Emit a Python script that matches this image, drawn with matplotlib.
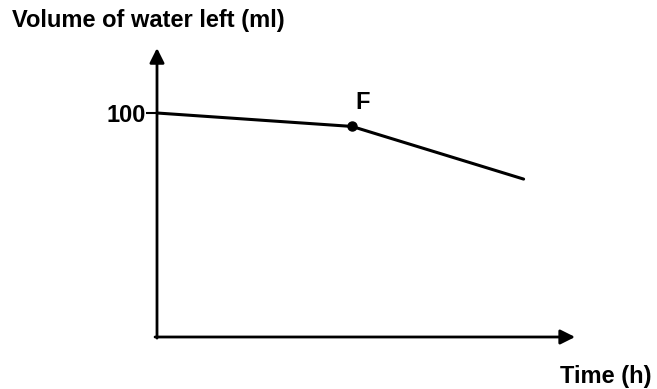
import matplotlib
matplotlib.use("Agg")
import matplotlib.pyplot as plt

# Data (arbitrary time units, volume in ml)
time_h = [0, 5, 9.4]
volume_ml = [100, 94, 70.5]
point_label = "F"
point_index = 1
ytick_values = [100]
ytick_labels = ["100"]
xlabel = "Time (h)"
ylabel = "Volume of water left (ml)"

W, H = 657, 389
fig = plt.figure(figsize=(W / 100, H / 100), dpi=100)
fig.patch.set_facecolor("white")

# axes region mapped so origin sits at the arrows' corner
ax = fig.add_axes([157 / W, (H - 337) / H, 429 / W, 291.2 / H])
ax.set_xlim(0, 11)
ax.set_ylim(0, 130)
for s in ax.spines.values():
    s.set_visible(False)
ax.patch.set_alpha(0)

font = dict(family="Liberation Sans", weight="bold")
FS = 17

# axis arrows
ax.annotate("", xy=(10.72, 0), xytext=(-0.05, 0), xycoords="data",
            arrowprops=dict(arrowstyle="-|>", lw=2, color="black",
                            mutation_scale=22, shrinkA=0, shrinkB=0),
            annotation_clip=False)
ax.annotate("", xy=(0, 129), xytext=(0, -0.5), xycoords="data",
            arrowprops=dict(arrowstyle="-|>", lw=2, color="black",
                            mutation_scale=22, shrinkA=0, shrinkB=0),
            annotation_clip=False)

# ticks
ax.set_xticks([])
ax.set_yticks(ytick_values)
ax.set_yticklabels(ytick_labels, fontsize=FS, **font)
ax.tick_params(axis="y", length=8, width=1.5, pad=0, color="black")

# data line
ax.plot(time_h, volume_ml, color="black", lw=2.2, clip_on=False,
        solid_capstyle="round")
ax.plot([time_h[point_index]], [volume_ml[point_index]], "o", color="black",
        ms=6.5, clip_on=False)
ax.annotate(point_label, xy=(time_h[point_index], volume_ml[point_index]),
            xytext=(7.5, 9), textcoords="offset points", ha="center",
            va="bottom", fontsize=FS, **font)

# labels
fig.text(12 / W, 1 - 27 / H, ylabel, ha="left", va="baseline",
         fontsize=FS, **font)
fig.text(652 / W, 1 - 383 / H, xlabel, ha="right", va="baseline",
         fontsize=FS, **font)

fig.savefig("out.png", dpi=100, facecolor="white")
